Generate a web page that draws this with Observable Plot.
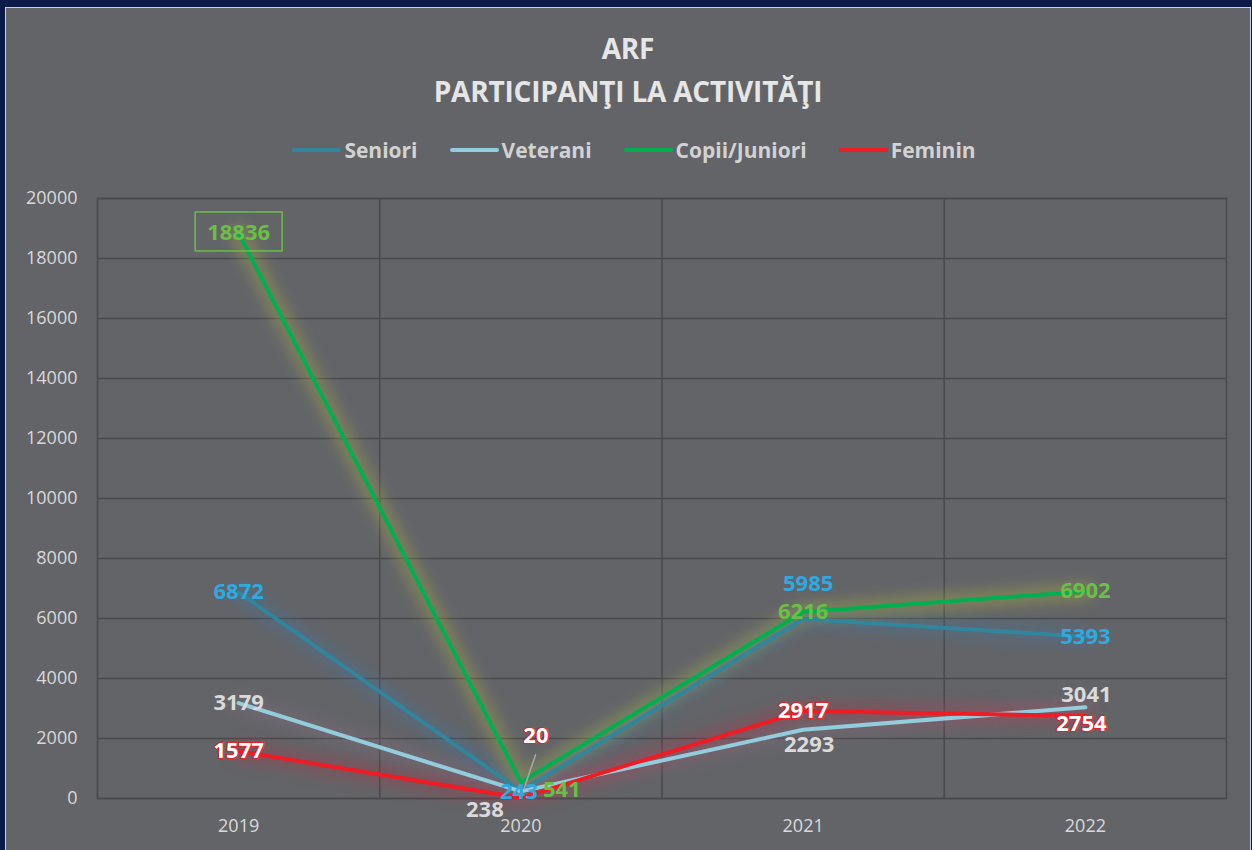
<!DOCTYPE html>
<html>
<head>
<meta charset="utf-8">
<script src="https://cdn.jsdelivr.net/npm/d3@7"></script>
<script src="https://cdn.jsdelivr.net/npm/@observablehq/plot@0.6"></script>
<style>
  html, body { margin: 0; padding: 0; }
  body { width: 1252px; height: 850px; overflow: hidden; background: #0b1a46; position: relative; font-family: "Open Sans", sans-serif; }
  #panel { position: absolute; left: 5px; top: 7px; width: 1244px; height: 850px; background: #636468; border-left: 1px solid #c9cfdb; border-top: 1px solid #c9cfdb; border-right: 1px solid #c9cfdb; }
  #title { position: absolute; left: 0; width: 100%; top: 19px; text-align: center; color: #e6e6e6; font-weight: 700; font-size: 28px; line-height: 43px; letter-spacing: -0.2px; }
  #legend { position: absolute; left: 6px; width: 100%; top: 127px; display: flex; justify-content: center; gap: 32px; color: #d2d2d2; font-weight: 700; font-size: 21px; line-height: 30px; }
  .item { display: flex; align-items: center; gap: 3px; }
  .swatch { width: 49px; height: 4px; border-radius: 2px; }
  #chart { position: absolute; left: 0; top: 164px; }
</style>
</head>
<body>
<div id="panel">
  <div id="title">ARF<br>PARTICIPANŢI LA ACTIVITĂŢI</div>
  <div id="legend"></div>
  <div id="chart"></div>
</div>
<script>
const years = ["2019", "2020", "2021", "2022"];
const seniori = [6872, 243, 5985, 5393];
const veterani = [3179, 238, 2293, 3041];
const copiiJuniori = [18836, 541, 6216, 6902];
const feminin = [1577, 20, 2917, 2754];
const seriesNames = ["Seniori", "Veterani", "Copii/Juniori", "Feminin"];
const seriesValues = [seniori, veterani, copiiJuniori, feminin];
const yTicks = [0, 2000, 4000, 6000, 8000, 10000, 12000, 14000, 16000, 18000, 20000];

const lineColors = ["#31859c", "#93cddd", "#00b050", "#ee1c25"];
const glowColors = ["#3d79a8", "#8a6f86", "#b9c23c", "#b83042"];
const labelColors = ["#2eaae1", "#dadada", "#6abf45", "#ffffff"];
// label offsets (pixels) relative to each point, default centered
const labelOffsets = {
  "Seniori|2021": [5, -35],
  "Seniori|2020": [-2, 1],
  "Veterani|2020": [-36, 19],
  "Veterani|2021": [6, 15],
  "Veterani|2022": [1, -12],
  "Copii/Juniori|2020": [41, 8],
  "Feminin|2020": [15, -62],
  "Feminin|2022": [-4, 8]
};

const rows = seriesNames.flatMap((s, si) =>
  seriesValues[si].map((v, i) => ({series: s, si, i, year: years[i], value: v}))
);
const boundaries = years.slice(1).map((_, i) => i + 0.5);

// legend
const legend = document.getElementById("legend");
seriesNames.forEach((s, si) => {
  const it = document.createElement("div");
  it.className = "item";
  it.innerHTML = `<span class="swatch" style="background:${lineColors[si]}"></span><span>${s}</span>`;
  legend.appendChild(it);
});

const leaderShape = {
  draw(context, l) { context.moveTo(0, 0); context.lineTo(0, -l); }
};

const grid = "#4a4a4d";
const marks = [
  Plot.gridY(yTicks, {stroke: grid, strokeOpacity: 1, strokeWidth: 1.6}),
  Plot.ruleX(boundaries, {stroke: grid, strokeWidth: 1.6}),
  Plot.frame({stroke: grid, strokeWidth: 1.6}),
  Plot.axisY(yTicks, {tickSize: 0, tickPadding: 20, fontSize: 18, label: null, tickFormat: d => String(d)}),
  Plot.axisX(years.map((_, i) => i), {tickSize: 0, tickPadding: 21, fontSize: 18, label: null, tickFormat: i => years[i]})
];
// glow
seriesNames.forEach((s, si) => {
  marks.push(Plot.line(rows.filter(r => r.si === si), {
    x: "i", y: "value", stroke: glowColors[si], strokeWidth: 18, strokeOpacity: 0.32,
    imageFilter: "blur(7px)"
  }));
});
// lines
seriesNames.forEach((s, si) => {
  marks.push(Plot.line(rows.filter(r => r.si === si), {
    x: "i", y: "value", stroke: lineColors[si], strokeWidth: 4
  }));
});
// leader line for Feminin 2020
marks.push(Plot.vector(rows.filter(r => r.series === "Feminin" && r.year === "2020"), {
  x: "i", y: "value", length: 36, rotate: 19, anchor: "start", dx: 3, dy: -9,
  shape: leaderShape, stroke: "#a8a8a8", strokeWidth: 1.5
}));
// labels
rows.forEach(r => {
  const off = labelOffsets[r.series + "|" + r.year] || [0, 0];
  const isFem = r.series === "Feminin";
  marks.push(Plot.text([r], {
    x: "i", y: "value", text: d => String(d.value),
    dx: off[0], dy: off[1],
    fill: labelColors[r.si], fontSize: 22, fontWeight: 700,
    fontFamily: "Open Sans",
    ...(isFem ? {stroke: "#e8202a", strokeWidth: 2, paintOrder: "stroke"} : {})
  }));
});

const chart = Plot.plot({
  width: 1244,
  height: 678,
  marginLeft: 91,
  marginRight: 24,
  marginTop: 26,
  marginBottom: 52,
  style: {background: "transparent", color: "#d9d9d9", fontFamily: "Open Sans"},
  x: {type: "linear", domain: [-0.5, years.length - 0.5], axis: null},
  y: {domain: [0, 20000], axis: null},
  marks
});
document.getElementById("chart").appendChild(chart);

// box around the Copii/Juniori maximum label
const maxVal = String(d3.max(copiiJuniori));
chart.querySelectorAll("text").forEach(t => {
  if (t.textContent === maxVal) {
    const b = t.getBBox();
    const ns = "http://www.w3.org/2000/svg";
    const rect = document.createElementNS(ns, "rect");
    const cy = b.y + b.height / 2;
    rect.setAttribute("x", b.x - 12);
    rect.setAttribute("y", cy - 19.5);
    rect.setAttribute("width", b.width + 24);
    rect.setAttribute("height", 39);
    rect.setAttribute("fill", "none");
    rect.setAttribute("stroke", "#6abf45");
    rect.setAttribute("stroke-width", 1.5);
    const tr = t.getAttribute("transform");
    if (tr) rect.setAttribute("transform", tr);
    const g = t.parentNode;
    const gtr = g.getAttribute("transform");
    if (gtr) { const wrap = document.createElementNS(ns, "g"); wrap.setAttribute("transform", gtr); wrap.appendChild(rect); g.parentNode.insertBefore(wrap, g); }
    else g.parentNode.insertBefore(rect, g);
  }
});
</script>
</body>
</html>
